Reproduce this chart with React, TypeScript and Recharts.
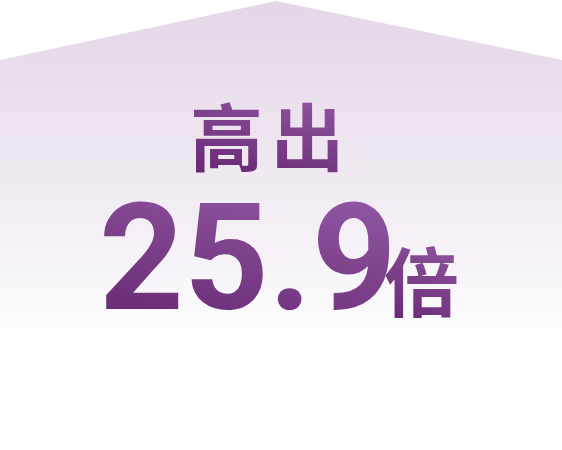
import { AreaChart, Area, XAxis, YAxis } from "recharts";

// roof outline of the badge: x position along the width, height above the bottom
const roofX = [0, 276, 562];
const roofY = [390, 449, 390];

const headline = "高出";
const multiple = "25.9";
const unit = "倍";

const data = roofX.map((x, i) => ({ x, y: roofY[i] }));

function BadgeText() {
  return (
    <svg
      width={562}
      height={450}
      style={{ position: "absolute", left: 0, top: 0, pointerEvents: "none" }}
    >
      <defs>
        <linearGradient id="textGrad" x1="0.35" y1="0" x2="0" y2="1">
          <stop offset="0%" stopColor="#8f55a0" />
          <stop offset="100%" stopColor="#62226c" />
        </linearGradient>
      </defs>
      <text
        x={190}
        y={165}
        fontFamily="'Noto Sans CJK SC', sans-serif"
        fontWeight={700}
        fontSize={73}
        letterSpacing={8}
        fill="url(#textGrad)"
      >
        {headline}
      </text>
      <text
        x={99}
        y={309}
        fontFamily="Roboto, sans-serif"
        fontWeight={700}
        fontSize={148}
        fill="url(#textGrad)"
      >
        {multiple}
      </text>
      <text
        x={384}
        y={311}
        fontFamily="'Noto Sans CJK SC', sans-serif"
        fontWeight={700}
        fontSize={75}
        fill="url(#textGrad)"
      >
        {unit}
      </text>
    </svg>
  );
}

export default function App() {
  return (
    <div style={{ position: "absolute", left: 0, top: 0, width: 562, height: 450, background: "#fff" }}>
      <AreaChart width={562} height={450} data={data} margin={{ top: 0, right: 0, bottom: 0, left: 0 }}>
        <defs>
          <linearGradient id="roofGrad" x1="0" y1="0" x2="0" y2="1">
            <stop offset="0%" stopColor="#e4d6e8" />
            <stop offset="33%" stopColor="#eee6f0" />
            <stop offset="70%" stopColor="#fbfafc" />
            <stop offset="74%" stopColor="#ffffff" />
            <stop offset="100%" stopColor="#ffffff" />
          </linearGradient>
        </defs>
        <XAxis dataKey="x" type="number" domain={[0, 562]} hide />
        <YAxis type="number" domain={[0, 450]} hide />
        <Area
          type="linear"
          dataKey="y"
          stroke="none"
          fill="url(#roofGrad)"
          fillOpacity={1}
          dot={false}
          activeDot={false}
          isAnimationActive={false}
        />
      </AreaChart>
      <BadgeText />
    </div>
  );
}
